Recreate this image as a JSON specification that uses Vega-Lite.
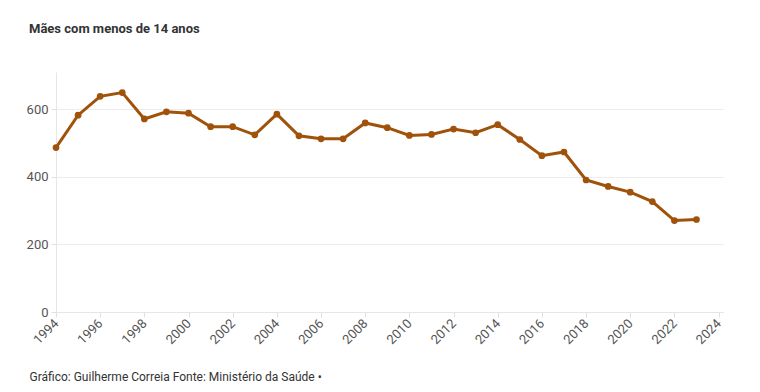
{
  "$schema": "https://vega.github.io/schema/vega-lite/v6.json",
  "width": 667,
  "height": 240,
  "autosize": "none",
  "padding": {"left": 56, "top": 72, "right": 37, "bottom": 80},
  "background": "#ffffff",
  "title": {
    "text": "Mães com menos de 14 anos",
    "anchor": "start",
    "frame": "group",
    "dx": -27,
    "offset": 36,
    "font": "Roboto",
    "fontSize": 13,
    "fontWeight": "bold",
    "color": "#333333"
  },
  "data": {
    "values": [
      {"ano": 1994, "valor": 487},
      {"ano": 1995, "valor": 583},
      {"ano": 1996, "valor": 639},
      {"ano": 1997, "valor": 650},
      {"ano": 1998, "valor": 572},
      {"ano": 1999, "valor": 593},
      {"ano": 2000, "valor": 589},
      {"ano": 2001, "valor": 549},
      {"ano": 2002, "valor": 549},
      {"ano": 2003, "valor": 525},
      {"ano": 2004, "valor": 586},
      {"ano": 2005, "valor": 522},
      {"ano": 2006, "valor": 513},
      {"ano": 2007, "valor": 513},
      {"ano": 2008, "valor": 560},
      {"ano": 2009, "valor": 546},
      {"ano": 2010, "valor": 523},
      {"ano": 2011, "valor": 526},
      {"ano": 2012, "valor": 542},
      {"ano": 2013, "valor": 531},
      {"ano": 2014, "valor": 555},
      {"ano": 2015, "valor": 511},
      {"ano": 2016, "valor": 463},
      {"ano": 2017, "valor": 474},
      {"ano": 2018, "valor": 391},
      {"ano": 2019, "valor": 372},
      {"ano": 2020, "valor": 355},
      {"ano": 2021, "valor": 327},
      {"ano": 2022, "valor": 271},
      {"ano": 2023, "valor": 274}
    ]
  },
  "config": {
    "view": {"stroke": null},
    "font": "Roboto"
  },
  "encoding": {
    "x": {
      "field": "ano",
      "type": "quantitative",
      "scale": {"domain": [1994, 2024.2], "nice": false, "zero": false},
      "axis": {
        "values": [1994, 1996, 1998, 2000, 2002, 2004, 2006, 2008, 2010, 2012, 2014, 2016, 2018, 2020, 2022, 2024],
        "format": "d",
        "labelAngle": -45,
        "labelAlign": "right",
        "labelBaseline": "middle",
        "labelFont": "Roboto",
        "labelFontSize": 13,
        "labelColor": "#555555",
        "labelPadding": 4,
        "grid": false,
        "domainColor": "#e6e6e6",
        "tickColor": "#e0e0e0",
        "tickSize": 5,
        "title": "Gráfico: Guilherme Correia Fonte: Ministério da Saúde •",
        "titleFont": "Roboto",
        "titleFontSize": 12,
        "titleFontWeight": "normal",
        "titleColor": "#333333",
        "titleAnchor": "start",
        "titleAlign": "left",
        "titleBaseline": "middle",
        "titleX": -27,
        "titleY": 64
      }
    },
    "y": {
      "field": "valor",
      "type": "quantitative",
      "scale": {"domain": [0, 711], "nice": false},
      "axis": {
        "values": [0, 200, 400, 600],
        "labelFont": "Roboto",
        "labelFontSize": 13,
        "labelColor": "#555555",
        "labelPadding": 3,
        "gridColor": "#ececec",
        "domainColor": "#e6e6e6",
        "tickColor": "#e0e0e0",
        "tickSize": 5,
        "title": null
      }
    }
  },
  "layer": [
    {
      "mark": {"type": "line", "color": "#a0520a", "strokeWidth": 3}
    },
    {
      "mark": {"type": "point", "filled": true, "color": "#a0520a", "opacity": 1, "size": 45}
    }
  ]
}
